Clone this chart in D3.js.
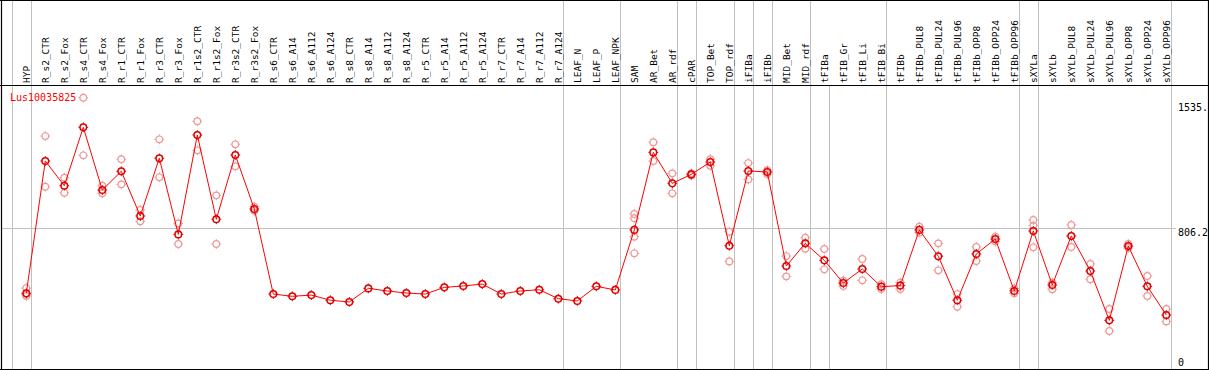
<!DOCTYPE html>
<html><head><meta charset="utf-8">
<script src="https://cdn.jsdelivr.net/npm/d3@7"></script>
<style>body{margin:0;background:#fff;}svg{display:block;}</style>
</head><body>
<svg id="c" width="1209" height="370"></svg>
<script>
const categories = ["HYP","R_s2_CTR","R_s2_Fox","R_s4_CTR","R_s4_Fox","R_r1_CTR","R_r1_Fox","R_r3_CTR","R_r3_Fox","R_r1s2_CTR","R_r1s2_Fox","R_r3s2_CTR","R_r3s2_Fox","R_s6_CTR","R_s6_A14","R_s6_A112","R_s6_A124","R_s8_CTR","R_s8_A14","R_s8_A112","R_s8_A124","R_r5_CTR","R_r5_A14","R_r5_A112","R_r5_A124","R_r7_CTR","R_r7_A14","R_r7_A112","R_r7_A124","LEAF_N","LEAF_P","LEAF_NPK","SAM","AR_Bet","AR_rdf","cPAR","TOP_Bet","TOP_rdf","iFIBa","iFIBb","MID_Bet","MID_rdf","tFIBa","tFIB_Gr","tFIB_Li","tFIB_Bi","tFIBb","tFIBb_PUL8","tFIBb_PUL24","tFIBb_PUL96","tFIBb_OPP8","tFIBb_OPP24","tFIBb_OPP96","sXYLa","sXYLb","sXYLb_PUL8","sXYLb_PUL24","sXYLb_PUL96","sXYLb_OPP8","sXYLb_OPP24","sXYLb_OPP96"];
const means = [426,1196,1052,1392,1027,1136,876,1212,769,1347,857,1231,917,422,409,416,386,376,455,440,428,422,461,469,480,422,440,447,395,382,467,446,795,1246,1066,1118,1190,703,1138,1132,585,717,618,486,568,465,471,795,642,386,655,742,440,789,475,760,556,269,701,467,300];
const replicates = [[457,422,411],[1341,1046],[1099,1011],[1564,1229],[1052,1008],[1206,1060],[911,845],[1322,1101],[833,713],[1427,1258],[996,713],[1293,1165],[930,907],[],[],[],[],[],[],[],[],[],[],[],[],[],[],[],[],[],[],[],[888,863,756,659],[1305,1196],[1124,1008],[1112,1124],[1207,1168],[785,612],[1184,1089],[1142,1120],[643,525],[750,686],[684,566],[500,469],[626,502],[451,479],[451,489],[814,779],[717,560],[422,348],[696,614],[756,728],[454,426],[853,820,694],[488,450],[824,696],[597,508],[335,207],[713,690],[527,411],[335,263]];
const groupEnds = ["HYP","R_r7_A124","LEAF_NPK","AR_rdf","cPAR","TOP_rdf","iFIBa","iFIBb","MID_rdf","tFIB_Bi","tFIBb_OPP96","sXYLa","sXYLb_OPP96"];
const plotOnlyEnds = ["tFIBa"];
const tickValues = [1535, 806.2, 0];
const tickLabels = ["1535.", "806.2", "0"];
const refValue = 806.2;
const geneName = "Lus10035825";

const svg = d3.select("#c");
const headerBottom = 85, plotBottom = 369, left = 1, right = 1208;
const x = d3.scalePoint().domain(categories).range([26.3, 26.3 + 19*(categories.length-1)]);
const y = d3.scaleLinear().domain([0, 1535]).range([366.6, 102.7]);
const gray = "#c0c0c0";

// separators
const sepX = [x(categories[0]) - 19 + 4.5].concat(groupEnds.map(c => x(c) + 4.5));
svg.selectAll("line.sep").data(sepX).enter().append("line")
  .attr("x1", d => Math.round(d)+0.5).attr("x2", d => Math.round(d)+0.5)
  .attr("y1", 0).attr("y2", plotBottom).attr("stroke", gray).attr("stroke-width", 1);
svg.selectAll("line.sep2").data(plotOnlyEnds.map(c => x(c) + 4.5)).enter().append("line")
  .attr("x1", d => Math.round(d)+0.5).attr("x2", d => Math.round(d)+0.5)
  .attr("y1", headerBottom).attr("y2", plotBottom).attr("stroke", gray).attr("stroke-width", 1);

// reference line
svg.append("line").attr("x1", left).attr("x2", 1176)
  .attr("y1", Math.round(y(refValue))+0.5).attr("y2", Math.round(y(refValue))+0.5)
  .attr("stroke", gray).attr("stroke-width", 1);

// frame
svg.append("line").attr("x1",0).attr("x2",1209).attr("y1",0.5).attr("y2",0.5).attr("stroke","#000");
svg.append("line").attr("x1",0).attr("x2",1209).attr("y1",headerBottom+0.5).attr("y2",headerBottom+0.5).attr("stroke","#000").attr("stroke-width",1.2);
svg.append("line").attr("x1",0).attr("x2",1209).attr("y1",plotBottom+0.5).attr("y2",plotBottom+0.5).attr("stroke","#000").attr("stroke-width",1.2);
svg.append("line").attr("x1",left+0.5).attr("x2",left+0.5).attr("y1",0).attr("y2",370).attr("stroke","#000").attr("stroke-width",1.2);
svg.append("line").attr("x1",right+0.5).attr("x2",right+0.5).attr("y1",0).attr("y2",370).attr("stroke","#000").attr("stroke-width",1.2);

// header labels
svg.selectAll("text.cat").data(categories).enter().append("text")
  .attr("transform", d => `translate(${x(d)+3.5},83) rotate(-90)`)
  .attr("font-family", "DejaVu Sans Mono, monospace").attr("font-size", "9.5px")
  .attr("fill", "#000").text(d => d);

// right tick labels
svg.selectAll("text.tick").data(tickValues).enter().append("text")
  .attr("x", 1178).attr("y", d => Math.min(y(d) + 8, 366))
  .attr("font-family", "DejaVu Sans Mono, monospace").attr("font-size", "10px")
  .attr("fill", "#000").text((d,i) => tickLabels[i]);

// marker helper
function marker(g, cx, cy, color, sw) {
  const r = 3.3;
  g.append("circle").attr("cx", cx).attr("cy", cy).attr("r", r)
    .attr("fill", "none").attr("stroke", color).attr("stroke-width", sw);
  [[0,-1],[0,1],[-1,0],[1,0]].forEach(([dx,dy]) => {
    g.append("line").attr("x1", cx+dx*r).attr("y1", cy+dy*r)
      .attr("x2", cx+dx*(r+1.6)).attr("y2", cy+dy*(r+1.6))
      .attr("stroke", color).attr("stroke-width", 1);
  });
}

// replicates
const repG = svg.append("g");
replicates.forEach((reps, i) => {
  reps.forEach(v => marker(repG, x(categories[i]), y(v), "#ee9999", 1.2));
});

// mean line
svg.append("path").datum(means)
  .attr("d", d3.line().x((d,i) => x(categories[i])).y(d => y(d)))
  .attr("fill", "none").attr("stroke", "#ff0000").attr("stroke-width", 1);

const meanG = svg.append("g");
means.forEach((v, i) => marker(meanG, x(categories[i]), y(v), "#e00000", 1.5));

// gene label
svg.append("text").attr("x", 10).attr("y", 101)
  .attr("font-family", "DejaVu Sans Mono, monospace").attr("font-size", "10px")
  .attr("fill", "#ff0000").text(geneName);
</script>
</body></html>
